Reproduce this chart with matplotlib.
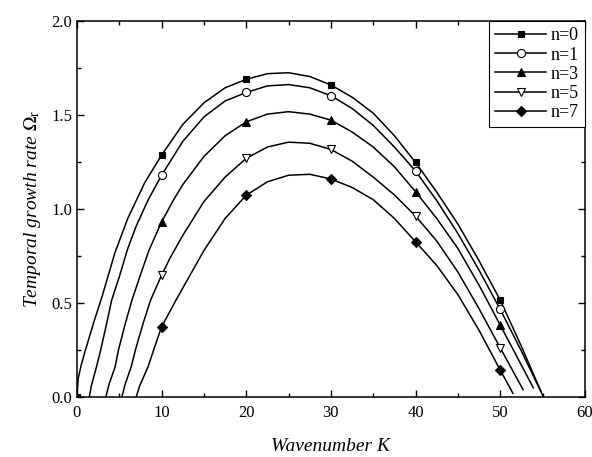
import matplotlib
matplotlib.use("Agg")
import matplotlib.pyplot as plt
from matplotlib.lines import Line2D
from matplotlib.ticker import MultipleLocator

plt.rcParams['font.family'] = ['Liberation Serif', 'DejaVu Serif']
plt.rcParams['mathtext.fontset'] = 'stix'

# curve points
k0 = [0, 0.15, 0.5, 1, 2, 3, 4.5, 6, 8, 10, 12.5, 15, 17.5, 20, 22.5, 25, 27.5, 30,
      32.5, 35, 37.5, 40, 42.5, 45, 47.5, 50, 52.5, 55.1]
w0 = [0, 0.10, 0.17, 0.25, 0.40, 0.54, 0.77, 0.95, 1.14, 1.287, 1.45, 1.565, 1.645, 1.69,
      1.72, 1.725, 1.705, 1.66, 1.595, 1.51, 1.39, 1.248, 1.09, 0.92, 0.725, 0.516, 0.27, 0.0]

k1 = [1.45, 1.7, 2.3, 2.8, 3.5, 4.1, 5, 6, 7, 8.4, 10, 12.5, 15, 17.5, 20, 22.5, 25, 27.5,
      30, 32.5, 35, 37.5, 40, 42.5, 45, 47.5, 50, 52.5, 54.8]
w1 = [0, 0.06, 0.16, 0.25, 0.39, 0.516, 0.64, 0.79, 0.91, 1.048, 1.18, 1.36, 1.49, 1.575,
      1.62, 1.655, 1.662, 1.645, 1.603, 1.535, 1.445, 1.33, 1.202, 1.045, 0.87, 0.675,
      0.466, 0.245, 0.03]

k3 = [3.4, 3.8, 4.5, 4.9, 5.7, 6.5, 7.5, 8.5, 10, 11.4, 12.5, 15, 17.5, 20, 22.5, 25, 27.5,
      30, 32.5, 35, 37.5, 40, 42.5, 45, 47.5, 50, 52.5, 53.9]
w3 = [0, 0.07, 0.16, 0.25, 0.39, 0.516, 0.65, 0.78, 0.932, 1.048, 1.13, 1.28, 1.39, 1.464,
      1.505, 1.518, 1.505, 1.473, 1.41, 1.33, 1.225, 1.092, 0.95, 0.79, 0.595, 0.383,
      0.17, 0.05]

k5 = [5.3, 5.7, 6.4, 6.9, 7.8, 8.7, 10, 11, 12.5, 15, 17.5, 20, 22.5, 25, 27.5, 30, 32.5,
      35, 37.5, 40, 42.5, 45, 47.5, 50, 52.7]
w5 = [0, 0.07, 0.16, 0.25, 0.39, 0.516, 0.649, 0.74, 0.86, 1.04, 1.17, 1.27, 1.33, 1.356,
      1.35, 1.317, 1.255, 1.17, 1.075, 0.963, 0.83, 0.665, 0.47, 0.262, 0.04]

k7 = [7.0, 7.4, 8.4, 9.05, 10, 11.7, 12.5, 15, 17.5, 20, 22.5, 25, 27.5, 30, 32.5, 35,
      37.5, 40, 42.5, 45, 47.5, 50, 51.5]
w7 = [0, 0.06, 0.161, 0.25, 0.374, 0.516, 0.58, 0.78, 0.95, 1.074, 1.145, 1.18, 1.185,
      1.16, 1.115, 1.05, 0.95, 0.826, 0.70, 0.545, 0.355, 0.144, 0.02]

# symbols
mk0 = [0, 10, 20, 30, 40, 50]
mw0 = [0, 1.287, 1.69, 1.66, 1.248, 0.516]
mk = [10, 20, 30, 40, 50]
mw1 = [1.18, 1.62, 1.603, 1.202, 0.466]
mw3 = [0.932, 1.464, 1.473, 1.092, 0.383]
mw5 = [0.649, 1.27, 1.317, 0.963, 0.262]
mw7 = [0.374, 1.074, 1.16, 0.826, 0.144]

labels = ['n=0', 'n=1', 'n=3', 'n=5', 'n=7']

fig = plt.figure(figsize=(5.92, 4.57), dpi=100)
ax = fig.add_axes([0.130, 0.131, 0.858, 0.823])

series = [
    (k0, w0, mk0, mw0, 's', 'k', 5.0),
    (k1, w1, mk, mw1, 'o', 'w', 5.8),
    (k3, w3, mk, mw3, '^', 'k', 6.2),
    (k5, w5, mk, mw5, 'v', 'w', 6.2),
    (k7, w7, mk, mw7, 'D', 'k', 5.0),
]

handles = []
for (kl, wl, km, wm, m, fc, ms), lab in zip(series, labels):
    ax.plot(kl, wl, '-', color='k', lw=1.1)
    ax.plot(km, wm, ls='none', marker=m, ms=ms, mfc=fc, mec='k', mew=0.8, zorder=3)
    handles.append(Line2D([], [], color='k', lw=1.1, marker=m, ms=ms, mfc=fc,
                          mec='k', mew=0.8))

ax.set_xlim(0, 60)
ax.set_ylim(0, 2.0)
ax.xaxis.set_major_locator(MultipleLocator(10))
ax.xaxis.set_minor_locator(MultipleLocator(5))
ax.yaxis.set_major_locator(MultipleLocator(0.5))
ax.yaxis.set_minor_locator(MultipleLocator(0.25))
ax.tick_params(which='both', direction='in', top=True, right=True, labelsize=12, width=1)
ax.tick_params(which='major', length=5)
ax.tick_params(which='minor', length=3)
ax.tick_params(axis='x', pad=6)
for s in ax.spines.values():
    s.set_linewidth(1.1)

ax.set_xlabel('Wavenumber K', fontsize=14, fontstyle='italic', labelpad=12)
ax.set_ylabel(r'Temporal growth rate $\Omega_\mathrm{r}$', fontsize=14,
              fontstyle='italic', labelpad=6)

leg = ax.legend(handles, labels, loc='upper right', fontsize=13, frameon=True,
                fancybox=False, edgecolor='k', framealpha=1, borderaxespad=0,
                labelspacing=0.12, handlelength=2.8, handletextpad=0.25,
                borderpad=0.35)
leg.get_frame().set_linewidth(0.8)

fig.savefig('out.png', dpi=100)
